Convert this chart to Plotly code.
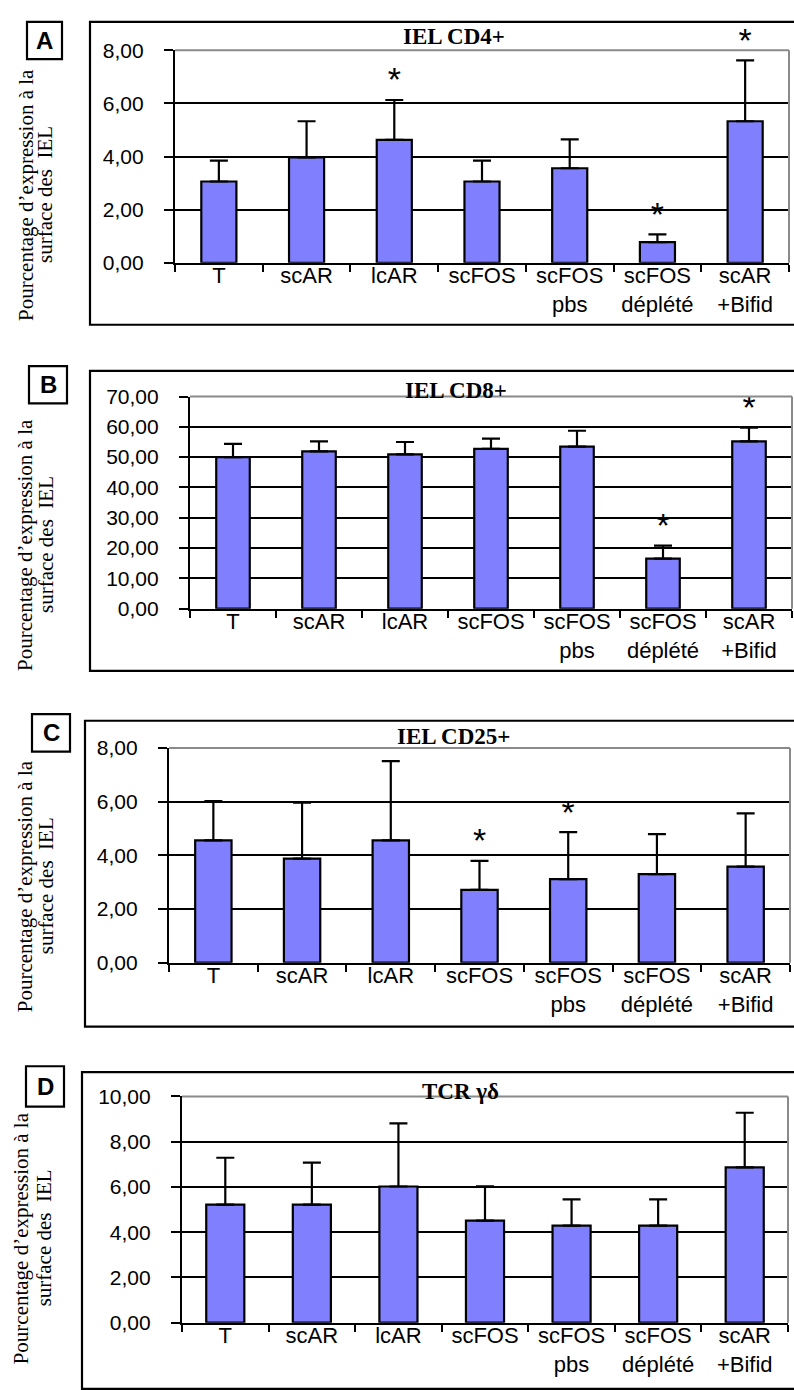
import plotly.graph_objects as go

W, H = 794, 1390

categories = ["T", "scAR", "lcAR", "scFOS", "scFOS<br>pbs", "scFOS<br>déplété", "scAR<br>+Bifid"]

cd4_mean = [3.06, 3.97, 4.63, 3.06, 3.56, 0.78, 5.33]
cd4_err = [0.79, 1.36, 1.50, 0.79, 1.09, 0.29, 2.29]
cd4_sig = [0, 0, 1, 0, 0, 1, 1]

cd8_mean = [50.0, 51.9, 50.9, 52.7, 53.5, 16.5, 55.2]
cd8_err = [4.4, 3.3, 4.1, 3.4, 5.2, 4.3, 4.5]
cd8_sig = [0, 0, 0, 0, 0, 1, 1]

cd25_mean = [4.56, 3.88, 4.56, 2.71, 3.11, 3.30, 3.58]
cd25_err = [1.46, 2.08, 2.95, 1.08, 1.75, 1.49, 1.98]
cd25_sig = [0, 0, 0, 1, 1, 0, 0]

tcr_mean = [5.22, 5.22, 6.02, 4.51, 4.29, 4.29, 6.86]
tcr_err = [2.07, 1.85, 2.79, 1.52, 1.16, 1.16, 2.42]
tcr_sig = [0, 0, 0, 0, 0, 0, 0]

panel_titles = ["IEL CD4+", "IEL CD8+", "IEL CD25+", "TCR γδ"]
panel_letters = ["A", "B", "C", "D"]
y_max = [8, 70, 8, 10]
y_step = [2, 10, 2, 2]
ytitle_lines = ["Pourcentage d’expression à la", "surface des  IEL"]


def px(x):
    return x / W


def py(y):
    return 1 - y / H


# layout geometry in pixels
plot_boxes = [  # x_left, x_right, y_top, y_zero
    (175, 789, 39, 255),
    (190, 792, 391, 606.7),
    (169, 790, 748.3, 966.7),
    (182, 788, 1102.7, 1332.7),
]
outer_frames = [(90, 10, 318), (90, 365, 670), (85, 720.7, 1031.7), (82, 1078, 1400)]
letter_boxes = [(27, 10, 62, 48), (29, 360, 67, 398), (32, 714, 70, 752), (26, 1072, 64, 1113)]
title_pos = [(454, 25), (456, 385), (453, 737), (460, 1098)]
ytitle_pos = [(26, 45, 186), (25, 46, 542), (25, 46, 889), (21, 44, 1247)]
bar_widths = [0.40, 0.39, 0.41, 0.44]

series = [
    (cd4_mean, cd4_err, cd4_sig),
    (cd8_mean, cd8_err, cd8_sig),
    (cd25_mean, cd25_err, cd25_sig),
    (tcr_mean, tcr_err, tcr_sig),
]

fig = go.Figure()
shapes = []
annotations = []
layout = {}

SANS = "Liberation Sans, Arial, sans-serif"
SERIF = "Liberation Serif, Times New Roman, serif"

for i, (mean, err, sig) in enumerate(series):
    n = i + 1
    xa = "x" if n == 1 else f"x{n}"
    ya = "y" if n == 1 else f"y{n}"
    xl, xr, yt, yz = plot_boxes[i]

    fig.add_trace(go.Bar(
        x=categories, y=mean, xaxis=xa, yaxis=ya,
        width=bar_widths[i],
        marker=dict(color="#8080FF", line=dict(color="black", width=2.2)),
        error_y=dict(type="data", array=err, arrayminus=[0] * len(err), symmetric=False,
                     color="black", thickness=2.2, width=9),
        hoverinfo="skip",
    ))
    fig.add_trace(go.Scatter(
        x=categories, y=[m + e for m, e in zip(mean, err)], xaxis=xa, yaxis=ya,
        mode="text", text=["*" if s else "" for s in sig],
        textposition="top center", cliponaxis=False,
        textfont=dict(family=SANS, size=34, color="black"),
        hoverinfo="skip",
    ))

    layout["xaxis" if n == 1 else f"xaxis{n}"] = dict(
        domain=[px(xl), px(xr)], anchor=ya, type="category",
        range=[-0.5, 6.5], tickson="boundaries",
        ticks="outside", ticklen=7, tickwidth=2, tickcolor="black",
        showline=True, linecolor="black", linewidth=2.2, showgrid=False,
        tickfont=dict(family=SANS, size=22, color="black"),
        ticklabelstandoff=-8,
        fixedrange=True,
    )
    layout["yaxis" if n == 1 else f"yaxis{n}"] = dict(
        domain=[py(yz), py(yt)], anchor=xa,
        range=[0, y_max[i]], tick0=0, dtick=y_step[i], tickformat=".2f",
        ticks="outside", ticklen=9, tickwidth=2, tickcolor="black",
        showline=True, linecolor="black", linewidth=2.2,
        showgrid=True, gridcolor="black", gridwidth=2, zeroline=False,
        tickfont=dict(family=SANS, size=21, color="black"),
        ticklabelstandoff=16,
        fixedrange=True,
    )

    # gray top and right border of plot area
    shapes.append(dict(type="line", xref="paper", yref="paper",
                       x0=px(xl), x1=px(xr), y0=py(yt), y1=py(yt),
                       line=dict(color="#8a8a8a", width=2)))
    shapes.append(dict(type="line", xref="paper", yref="paper",
                       x0=px(xr), x1=px(xr), y0=py(yt), y1=py(yz),
                       line=dict(color="#8a8a8a", width=2)))

    # outer frame
    fx, fy0, fy1 = outer_frames[i]
    shapes.append(dict(type="rect", xref="paper", yref="paper",
                       x0=px(fx), x1=px(W + 20), y0=py(fy1), y1=py(fy0),
                       line=dict(color="black", width=2.2), layer="below"))

    # letter box
    lx0, ly0, lx1, ly1 = letter_boxes[i]
    shapes.append(dict(type="rect", xref="paper", yref="paper",
                       x0=px(lx0), x1=px(lx1), y0=py(ly1), y1=py(ly0),
                       line=dict(color="black", width=2.2)))
    annotations.append(dict(text=f"<b>{panel_letters[i]}</b>", xref="paper", yref="paper",
                            x=px((lx0 + lx1) / 2), y=py((ly0 + ly1) / 2),
                            xanchor="center", yanchor="middle", showarrow=False,
                            font=dict(family=SANS, size=24, color="black")))

    # panel title
    tx, ty = title_pos[i]
    annotations.append(dict(text=f"<b>{panel_titles[i]}</b>", xref="paper", yref="paper",
                            x=px(tx), y=py(ty), xanchor="center", yanchor="middle",
                            showarrow=False,
                            font=dict(family=SERIF, size=23, color="black")))

    # y-axis title (two rotated lines)
    x1_, x2_, yc = ytitle_pos[i]
    for xx, line in zip((x1_, x2_), ytitle_lines):
        annotations.append(dict(text=line, xref="paper", yref="paper",
                                x=px(xx), y=py(yc), xanchor="center", yanchor="middle",
                                textangle=-90, showarrow=False,
                                font=dict(family=SERIF, size=21, color="black")))

fig.update_layout(
    width=W, height=H, margin=dict(l=0, r=0, t=0, b=0),
    paper_bgcolor="white", plot_bgcolor="white",
    showlegend=False, separators=", ", hovermode=False,
    shapes=shapes, annotations=annotations,
    **layout,
)

fig.write_html("out.html")
